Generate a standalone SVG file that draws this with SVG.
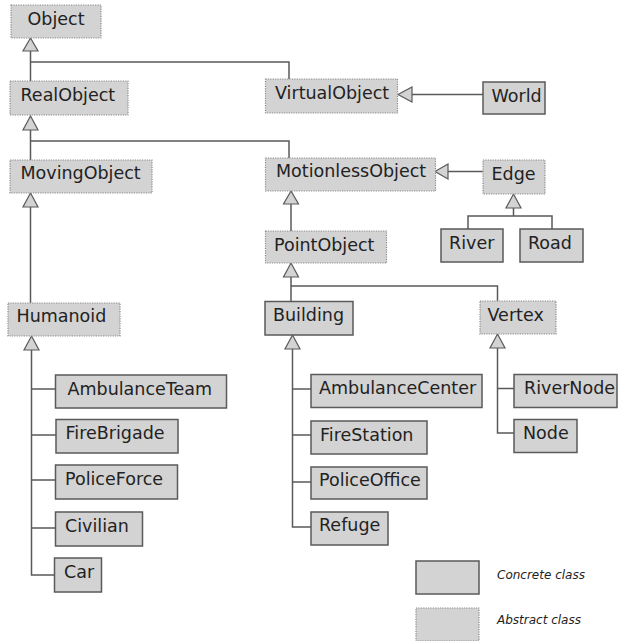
<svg xmlns="http://www.w3.org/2000/svg" width="619" height="641" viewBox="0 0 619 641">
<style>
.c{fill:#d3d3d3;stroke:#5a5a5a;stroke-width:1.5}
.a{fill:#d3d3d3;stroke:#8a8a8a;stroke-width:1.2;stroke-dasharray:1.2 1.2}
.t{font-family:"DejaVu Sans",sans-serif;font-size:17.5px;fill:#222222}
.l{font-family:"DejaVu Sans",sans-serif;font-size:12px;font-style:italic;fill:#222222}
.e{fill:none;stroke:#5a5a5a;stroke-width:1.5}
.h{fill:#d3d3d3;stroke:#5a5a5a;stroke-width:1.2}
</style>
<rect width="619" height="641" fill="#ffffff"/>
<g id="connectors">
<path class="e" d="M30.5 51V81M30.5 62H289V79"/>
<polygon class="h" points="30.5,38 23,51 38,51"/>
<path class="e" d="M412 94.5H483"/>
<polygon class="h" points="398,94.5 412,87 412,102"/>
<path class="e" d="M30.5 130V160M30.5 141H289V158"/>
<polygon class="h" points="30.5,116 23,130 38,130"/>
<path class="e" d="M448 171.5H483"/>
<polygon class="h" points="435,171.5 448,164 448,179"/>
<path class="e" d="M513.5 208V216M468 229V216H552V229"/>
<polygon class="h" points="513.5,194 506,208 521,208"/>
<path class="e" d="M291 204V231"/>
<polygon class="h" points="291,191 283.5,204 298.5,204"/>
<path class="e" d="M291 277V301M291 286H497.5V301"/>
<polygon class="h" points="291,263 283.5,277 298.5,277"/>
<path class="e" d="M30.5 207V303"/>
<polygon class="h" points="30.5,193 23,207 38,207"/>
<path class="e" d="M31.5 350V575H54M31.5 389H55M31.5 435H56M31.5 480H55M31.5 528H55"/>
<polygon class="h" points="31.5,336 24,350 39,350"/>
<path class="e" d="M292.5 349V527H311M292.5 389H311M292.5 435H311M292.5 482H311"/>
<polygon class="h" points="292.5,335 285,349 300,349"/>
<path class="e" d="M497.5 348V433H514M497.5 388.5H514"/>
<polygon class="h" points="497.5,334 490,348 505,348"/>
</g>
<g id="Object"><rect class="a" x="11" y="5" width="90" height="33"/><text class="t" x="27.5" y="25">Object</text></g>
<g id="RealObject"><rect class="a" x="10" y="81" width="118" height="34"/><text class="t" x="20.5" y="101">RealObject</text></g>
<g id="VirtualObject"><rect class="a" x="265.5" y="79" width="132" height="34"/><text class="t" x="275" y="99">VirtualObject</text></g>
<g id="World"><rect class="c" x="483" y="82" width="62" height="32"/><text class="t" x="491.5" y="101.5">World</text></g>
<g id="MovingObject"><rect class="a" x="10" y="160" width="142" height="33"/><text class="t" x="20.5" y="179">MovingObject</text></g>
<g id="MotionlessObject"><rect class="a" x="265.5" y="158" width="170" height="33"/><text class="t" x="276" y="177">MotionlessObject</text></g>
<g id="Edge"><rect class="a" x="483" y="160" width="62" height="34"/><text class="t" x="491.5" y="180">Edge</text></g>
<g id="River"><rect class="c" x="441" y="229" width="62" height="33"/><text class="t" x="449" y="249">River</text></g>
<g id="Road"><rect class="c" x="520" y="229" width="63" height="33"/><text class="t" x="528" y="249">Road</text></g>
<g id="PointObject"><rect class="a" x="265.5" y="231" width="121" height="32"/><text class="t" x="274" y="250.5">PointObject</text></g>
<g id="Building"><rect class="c" x="265" y="301.5" width="88" height="33.5"/><text class="t" x="273" y="321">Building</text></g>
<g id="Vertex"><rect class="a" x="480" y="301" width="76" height="33"/><text class="t" x="487.5" y="320.5">Vertex</text></g>
<g id="AmbulanceCenter"><rect class="c" x="311" y="374.5" width="171" height="33"/><text class="t" x="319" y="394">AmbulanceCenter</text></g>
<g id="FireStation"><rect class="c" x="311" y="421" width="116" height="33"/><text class="t" x="320" y="440.5">FireStation</text></g>
<g id="PoliceOffice"><rect class="c" x="311" y="467" width="116" height="32"/><text class="t" x="319" y="486">PoliceOffice</text></g>
<g id="Refuge"><rect class="c" x="311" y="512" width="77" height="33"/><text class="t" x="319" y="531">Refuge</text></g>
<g id="RiverNode"><rect class="c" x="514" y="374.5" width="103" height="33"/><text class="t" x="524" y="394">RiverNode</text></g>
<g id="Node"><rect class="c" x="514" y="419.5" width="63" height="33"/><text class="t" x="523" y="439">Node</text></g>
<g id="Humanoid"><rect class="a" x="8" y="303" width="112" height="33"/><text class="t" x="16.5" y="322">Humanoid</text></g>
<g id="AmbulanceTeam"><rect class="c" x="55.5" y="375" width="171" height="33"/><text class="t" x="67.5" y="394.5">AmbulanceTeam</text></g>
<g id="FireBrigade"><rect class="c" x="56" y="419.5" width="122" height="33.5"/><text class="t" x="65.5" y="439">FireBrigade</text></g>
<g id="PoliceForce"><rect class="c" x="55.5" y="465" width="122" height="34"/><text class="t" x="65" y="485">PoliceForce</text></g>
<g id="Civilian"><rect class="c" x="55.5" y="512" width="87" height="34"/><text class="t" x="65" y="532">Civilian</text></g>
<g id="Car"><rect class="c" x="54.5" y="558" width="47" height="34"/><text class="t" x="64" y="578">Car</text></g>
<g id="legend">
<rect class="c" x="416" y="561" width="63" height="33"/>
<text class="l" x="497" y="579">Concrete class</text>
<rect class="a" x="416" y="608" width="63" height="33"/>
<text class="l" x="497" y="624">Abstract class</text>
</g>
</svg>
